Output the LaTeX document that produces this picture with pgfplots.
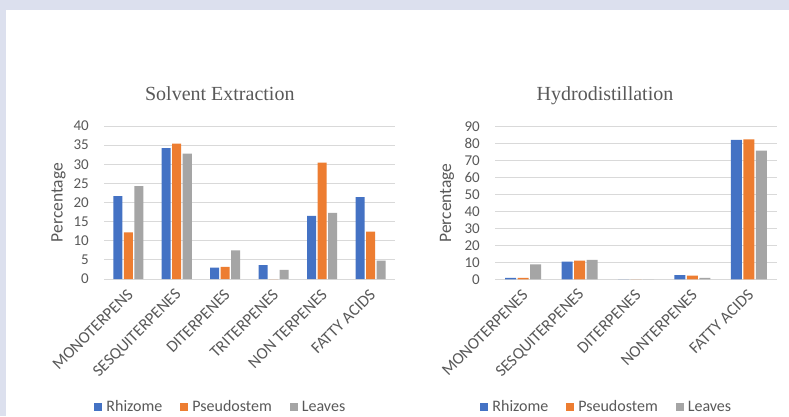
\documentclass[border=0pt]{standalone}
\usepackage{fontspec}
\setmainfont{Carlito}
\newfontfamily\titlefont{Liberation Serif}
\usepackage{pgfplots}
\pgfplotsset{compat=1.18}
\definecolor{bgc}{HTML}{DCE0EE}
\definecolor{txt}{HTML}{595959}
\definecolor{gridc}{HTML}{D9D9D9}
\definecolor{cblue}{HTML}{4472C4}
\definecolor{corange}{HTML}{ED7D31}
\definecolor{cgray}{HTML}{A5A5A5}
\pgfplotsset{
  excelbar/.style={
    scale only axis,
    anchor=south west,
    ymin=0,
    enlargelimits=false,
    axis line style={draw=none},
    major tick length=0pt,
    ymajorgrids,
    grid style={draw=gridc, line width=0.9pt},
    ybar=1.5pt,
    xtick=data,
    /pgf/number format/assume math mode=true,
    tick label style={font=\fontsize{15}{18}\selectfont, text=txt},
    yticklabel style={anchor=east, inner sep=0pt, xshift=-15pt},
    xticklabel style={font=\fontsize{16.5}{19}\selectfont, xshift=2pt, yshift=-13pt, rotate=45, anchor=east, inner sep=0pt},
    ylabel={Percentage},
    ylabel style={font=\fontsize{17.5}{20}\selectfont, text=txt},
    title style={font=\titlefont\fontsize{20}{24}\selectfont, text=txt, anchor=base},
    legend columns=3,
    legend style={draw=none, fill=none, font=\fontsize{16}{18}\selectfont, text=txt,
      anchor=center, inner sep=0pt, nodes={inner xsep=4pt, inner ysep=0pt},
      /tikz/every odd column/.append style={column sep=0pt},
      /tikz/every even column/.append style={column sep=14pt}},
    legend image code/.code={\fill[##1] (0pt,-4pt) rectangle (8pt,4pt);},
  }
}
\begin{document}
\begin{tikzpicture}[x=1pt,y=1pt]
\path[use as bounding box] (0,0) rectangle (789,416);
\fill[bgc] (0,0) rectangle (789,416);
\fill[white] (6,0) rectangle (789,406);
\begin{axis}[excelbar,
  at={(104pt,137pt)}, width=291pt, height=153pt,
  xmin=-0.5, xmax=5.5, ymax=40, ytick={0,5,...,40},
  bar width=9pt,
  xticklabels={MONOTERPENS,SESQUITERPENES,DITERPENES,TRITERPENES,NON TERPENES,FATTY ACIDS},
  title={Solvent Extraction},
  title style={at={(axis description cs:0.398,1.13)}},
  ylabel style={at={(axis description cs:-0.12,0.5)}},
  legend style={at={(axis description cs:0.405,-0.835)}},
]
\addplot[fill=cblue, draw=none] coordinates {(0,21.7) (1,34.2) (2,2.95) (3,3.6) (4,16.5) (5,21.4)};
\addplot[fill=corange, draw=none] coordinates {(0,12.2) (1,35.4) (2,3.2) (3,0) (4,30.4) (5,12.4)};
\addplot[fill=cgray, draw=none] coordinates {(0,24.3) (1,32.8) (2,7.5) (3,2.4) (4,17.3) (5,4.8)};
\legend{Rhizome,Pseudostem,Leaves}
\end{axis}
\begin{axis}[excelbar,
  at={(495pt,136.7pt)}, width=282pt, height=152.6pt,
  xmin=-0.5, xmax=4.5, ymax=90, ytick={0,10,...,90},
  bar width=11pt,
  xticklabels={MONOTERPENES,SESQUITERPENES,DITERPENES,NONTERPENES,FATTY ACIDS},
  title={Hydrodistillation},
  title style={at={(axis description cs:0.39,1.135)}},
  ylabel style={at={(axis description cs:-0.132,0.5)}},
  legend style={at={(axis description cs:0.40,-0.835)}},
]
\addplot[fill=cblue, draw=none] coordinates {(0,0.9) (1,10.4) (2,0) (3,2.5) (4,82.2)};
\addplot[fill=corange, draw=none] coordinates {(0,0.9) (1,11.0) (2,0) (3,2.1) (4,82.6)};
\addplot[fill=cgray, draw=none] coordinates {(0,8.8) (1,11.4) (2,0) (3,0.8) (4,75.9)};
\legend{Rhizome,Pseudostem,Leaves}
\end{axis}
\end{tikzpicture}
\end{document}
